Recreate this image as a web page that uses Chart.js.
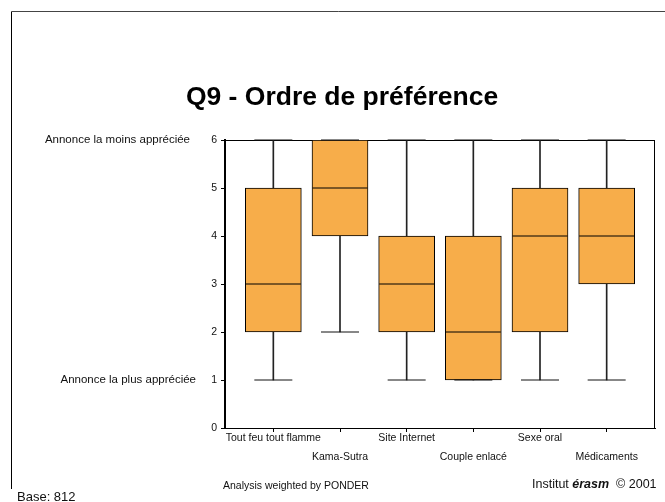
<!DOCTYPE html>
<html>
<head>
<meta charset="utf-8">
<script src="https://cdn.jsdelivr.net/npm/chart.js"></script>
<style>
  html, body { margin: 0; padding: 0; background: #fff; }
  #wrap { position: relative; width: 665px; height: 502px; }
</style>
</head>
<body>
<div id="wrap"><canvas id="chart" width="665" height="502"></canvas></div>
<script>
// Box plot data (rank 1 = most liked, 6 = least liked)
const categories = ['Tout feu tout flamme', 'Kama-Sutra', 'Site Internet', 'Couple enlacé', 'Sexe oral', 'Médicaments'];
const minValues = [1, 2, 1, 1, 1, 1];
const q1Values = [2, 4, 2, 1, 2, 3];
const medianValues = [3, 5, 3, 2, 4, 4];
const q3Values = [5, 6, 4, 4, 5, 5];
const maxValues = [6, 6, 6, 6, 6, 6];
const yTicks = [0, 1, 2, 3, 4, 5, 6];
const sideLabelValues = [6, 1];
const sideLabelTexts = ['Annonce la moins appréciée', 'Annonce la plus appréciée'];

const FONT = '"Liberation Sans", Arial, sans-serif';
const ORANGE = '#F7AD4A';

// extra texts + frames, positioned with the chart's scales where they belong to data
const extrasPlugin = {
  id: 'extras',
  beforeDraw(chart) {
    const ctx = chart.ctx;
    ctx.save();
    ctx.lineWidth = 1;
    ctx.strokeStyle = '#000';
    ctx.beginPath();
    ctx.moveTo(11.5, 489);
    ctx.lineTo(11.5, 11.5);
    ctx.stroke();
    ctx.strokeStyle = '#444';
    ctx.beginPath();
    ctx.moveTo(11.5, 11.5);
    ctx.lineTo(665, 11.5);
    ctx.stroke();
    ctx.restore();
  },
  beforeDatasetsDraw(chart) {
    const ctx = chart.ctx;
    const a = chart.chartArea;
    ctx.save();
    ctx.strokeStyle = '#000';
    ctx.lineWidth = 1;
    ctx.strokeRect(Math.round(a.left) + 0.5, Math.round(a.top) + 0.5,
      Math.round(a.right - a.left) - 1, Math.round(a.bottom - a.top));
    ctx.restore();
  },
  afterDraw(chart) {
    const ctx = chart.ctx;
    const y = chart.scales.y;
    ctx.save();
    ctx.fillStyle = '#111';
    ctx.textBaseline = 'middle';

    // side annotations next to the y ticks
    ctx.font = '11.5px ' + FONT;
    ctx.textAlign = 'right';
    const sideX = [190, 196];
    sideLabelTexts.forEach((t, i) => {
      ctx.fillText(t, sideX[i], y.getPixelForValue(sideLabelValues[i]));
    });

    // footer
    ctx.textAlign = 'left';
    ctx.font = '13px ' + FONT;
    ctx.fillText('Base: 812', 17, 497);
    ctx.font = '10.5px ' + FONT;
    ctx.fillText('Analysis weighted by PONDER', 223, 486);

    let x = 532;
    ctx.font = '12.5px ' + FONT;
    ctx.fillText('Institut ', x, 485);
    x += ctx.measureText('Institut ').width;
    ctx.font = 'italic bold 12.5px ' + FONT;
    ctx.fillText('érasm', x, 485);
    x += ctx.measureText('érasm').width;
    ctx.font = '12.5px ' + FONT;
    ctx.fillText('  © 2001', x, 485);
    ctx.restore();
  }
};

new Chart(document.getElementById('chart'), {
  type: 'bar',
  data: {
    datasets: [
      {
        // medians
        type: 'line',
        order: 0,
        showLine: false,
        clip: false,
        data: categories.map((c, i) => ({ x: i, y: medianValues[i] })),
        pointStyle: 'line',
        pointRadius: 27.5,
        pointHoverRadius: 27.5,
        borderColor: '#000',
        borderWidth: 1,
      },
      {
        // whisker caps
        type: 'line',
        order: 1,
        showLine: false,
        clip: false,
        data: categories.map((c, i) => ({ x: i, y: minValues[i] }))
          .concat(categories.map((c, i) => ({ x: i, y: maxValues[i] }))),
        pointStyle: 'line',
        pointRadius: 19,
        pointHoverRadius: 19,
        borderColor: '#111',
        borderWidth: 1,
      },
      {
        // boxes
        order: 2,
        grouped: false,
        data: categories.map((c, i) => ({ x: i, y: [q1Values[i], q3Values[i]] })),
        backgroundColor: ORANGE,
        borderColor: '#000',
        borderWidth: 1,
        borderSkipped: false,
        barThickness: 56,
      },
      {
        // upper whiskers
        order: 3,
        grouped: false,
        data: categories.map((c, i) => ({ x: i, y: [q3Values[i], maxValues[i]] })),
        backgroundColor: '#222',
        borderWidth: 0,
        barThickness: 1,
      },
      {
        // lower whiskers
        order: 3,
        grouped: false,
        data: categories.map((c, i) => ({ x: i, y: [minValues[i], q1Values[i]] })),
        backgroundColor: '#222',
        borderWidth: 0,
        barThickness: 1,
      },
    ]
  },
  options: {
    responsive: false,
    animation: false,
    events: [],
    layout: { autoPadding: false, padding: { left: 29, right: 10, top: 0, bottom: 0 } },
    plugins: {
      legend: { display: false },
      tooltip: { enabled: false },
      title: {
        display: true,
        text: 'Q9 - Ordre de préférence',
        color: '#000',
        font: { family: FONT, size: 26.5, weight: 'bold', lineHeight: 1.2 },
        padding: { top: 82, bottom: 26.2 },
      },
    },
    scales: {
      x: {
        type: 'linear',
        offset: false,
        min: -0.725,
        max: 5.725,
        afterBuildTicks: (scale) => { scale.ticks = categories.map((c, i) => ({ value: i })); },
        afterFit: (scale) => {
          scale.height = 74;
          scale.paddingLeft = 0;
          scale.paddingRight = 0;
        },
        grid: { offset: false, drawOnChartArea: false, tickLength: 4, color: '#000' },
        border: { display: true, color: '#000', width: 1 },
        ticks: {
          autoSkip: false,
          maxRotation: 0,
          minRotation: 0,
          padding: -3.5,
          color: '#111',
          font: { family: FONT, size: 10.5, lineHeight: 1.8 },
          callback: (value) => {
            const i = Math.round(value);
            return i % 2 === 0 ? categories[i] : ['', categories[i]];
          },
        },
      },
      y: {
        min: 0,
        max: 6,
        afterBuildTicks: (scale) => { scale.ticks = yTicks.map(v => ({ value: v })); },
        afterFit: (scale) => {
          scale.width = 196;
          scale.paddingTop = 0;
          scale.paddingBottom = 0;
        },
        grid: { drawOnChartArea: false, tickLength: 4, color: '#000' },
        border: { display: true, color: '#000', width: 2 },
        ticks: {
          padding: 4,
          color: '#111',
          font: { family: FONT, size: 10.5 },
        },
      },
    },
  },
  plugins: [extrasPlugin],
});
</script>
</body>
</html>
